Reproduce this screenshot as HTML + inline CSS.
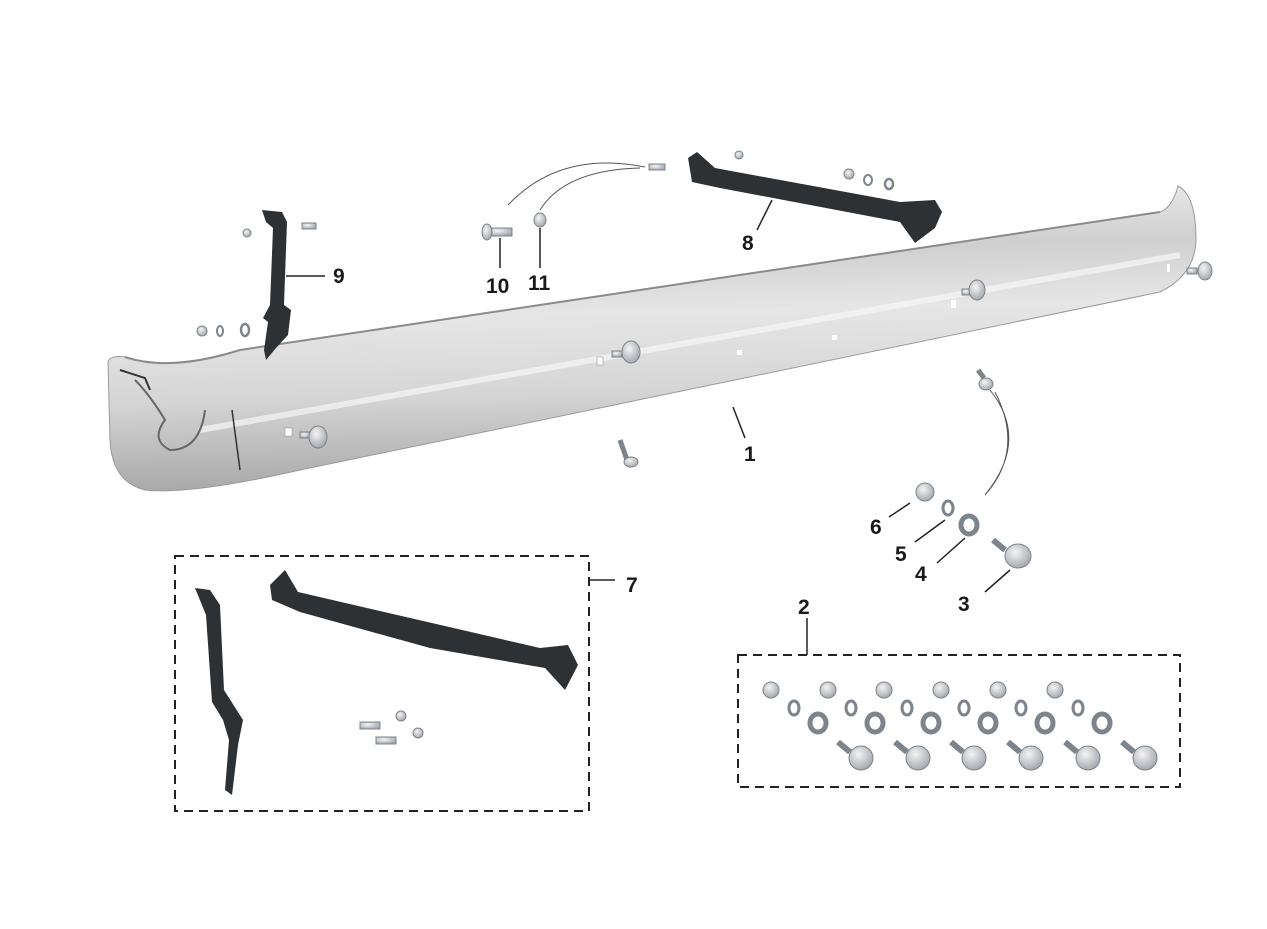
<!DOCTYPE html>
<html><head><meta charset="utf-8"><style>
html,body{margin:0;padding:0;background:#fff;}
svg{display:block;}
text{font-family:"Liberation Sans",sans-serif;font-weight:bold;font-size:21px;fill:#1a1a1a;}
</style></head><body>
<svg width="1267" height="929" viewBox="0 0 1267 929" xmlns="http://www.w3.org/2000/svg">
<defs>
<linearGradient id="chrome" x1="0" y1="0" x2="0.08" y2="1">
<stop offset="0" stop-color="#f2f2f2"/>
<stop offset="0.25" stop-color="#cfcfcf"/>
<stop offset="0.45" stop-color="#e6e6e6"/>
<stop offset="0.7" stop-color="#d6d6d6"/>
<stop offset="1" stop-color="#a9a9a9"/>
</linearGradient>
<radialGradient id="bolt" cx="0.4" cy="0.35" r="0.7"><stop offset="0" stop-color="#f4f4f4"/><stop offset="1" stop-color="#9fa4aa"/></radialGradient>
</defs>

<!-- bumper -->
<path d="M108,362 Q110,355 125,357 Q170,372 240,350 L1160,212 Q1172,208 1178,186 Q1196,195 1196,240 Q1195,275 1160,292 L300,470 Q190,495 145,490 Q112,482 110,440 Z" fill="url(#chrome)" stroke="#9a9a9a" stroke-width="1"/>
<path d="M125,357 Q170,372 240,350 L1160,212" fill="none" stroke="#8a8a8a" stroke-width="2"/>
<path d="M200,430 L1180,255" stroke="#f7f7f7" stroke-width="6" opacity="0.7"/>
<path d="M135,380 Q150,395 165,420 Q150,440 170,450 Q200,450 205,410" fill="none" stroke="#666" stroke-width="2"/>
<path d="M120,370 L145,378 L150,390" fill="none" stroke="#333" stroke-width="2"/>
<path d="M232,410 L240,470" stroke="#333" stroke-width="1.5"/>
<rect x="285" y="428" width="7" height="8" fill="#fff" stroke="#888" stroke-width=".5"/>
<rect x="597" y="357" width="6" height="8" fill="#fff" stroke="#888" stroke-width=".5"/>
<rect x="737" y="350" width="5" height="5" fill="#fff"/>
<rect x="832" y="335" width="5" height="5" fill="#fff"/>
<rect x="951" y="300" width="5" height="8" fill="#fff"/>
<rect x="603" y="412" width="6" height="7" fill="#fff"/>
<rect x="955" y="343" width="5" height="6" fill="#fff"/>
<rect x="1167" y="264" width="3" height="8" fill="#fff"/>
<g fill="url(#bolt)" stroke="#7d848b" stroke-width="1">
<rect x="300" y="432" width="10" height="6"/><ellipse cx="318" cy="437" rx="9" ry="11"/>
<rect x="612" y="351" width="10" height="6"/><ellipse cx="631" cy="352" rx="9" ry="11"/>
<rect x="962" y="289" width="10" height="6"/><ellipse cx="977" cy="290" rx="8" ry="10"/>
<rect x="1187" y="268" width="10" height="6"/><ellipse cx="1205" cy="271" rx="7" ry="9"/>
<path d="M620,440 L627,460" stroke-width="5"/><ellipse cx="631" cy="462" rx="7" ry="5"/>
<path d="M978,370 L984,378" stroke-width="5"/><ellipse cx="986" cy="384" rx="7" ry="6"/>
</g>

<!-- bracket 9 -->
<path d="M262,210 L282,212 L287,222 L284,305 L291,310 L288,335 L276,348 L266,360 L264,350 L268,322 L263,318 L270,305 L273,228 L266,222 Z" fill="#2e3134"/>
<g fill="url(#bolt)" stroke="#7d848b"><circle cx="247" cy="233" r="4"/><rect x="302" y="223" width="14" height="6"/><circle cx="202" cy="331" r="5"/><ellipse cx="220" cy="331" rx="3" ry="5" fill="none" stroke-width="2"/><ellipse cx="245" cy="330" rx="4" ry="6" fill="none" stroke-width="2.5"/></g>
<path d="M286,276 L325,276" stroke="#222" stroke-width="1.5"/>
<text x="333" y="283">9</text>

<!-- bracket 8 -->
<path d="M688,158 L697,152 L715,168 L900,202 L935,200 L942,212 L935,228 L915,243 L900,222 L720,188 L692,182 Z" fill="#2e3134"/>
<g fill="url(#bolt)" stroke="#7d848b"><circle cx="739" cy="155" r="4"/><circle cx="849" cy="174" r="5"/><ellipse cx="868" cy="180" rx="4" ry="5" fill="none" stroke-width="2"/><ellipse cx="889" cy="184" rx="4" ry="5" fill="none" stroke-width="2.5"/><rect x="649" y="164" width="16" height="6"/></g>
<path d="M772,200 L757,230" stroke="#222" stroke-width="1.5"/>
<text x="742" y="250">8</text>

<path d="M508,205 Q560,150 645,167 M540,210 Q565,170 640,168" fill="none" stroke="#555" stroke-width="1"/>
<g fill="url(#bolt)" stroke="#7d848b"><rect x="488" y="228" width="24" height="8"/><ellipse cx="487" cy="232" rx="5" ry="8"/><ellipse cx="540" cy="220" rx="6" ry="7"/></g>
<path d="M500,238 L500,268 M540,228 L540,268" stroke="#222" stroke-width="1.5"/>
<text x="486" y="293">10</text><text x="528" y="290">11</text>

<text x="744" y="461">1</text>
<path d="M733,407 L745,438" stroke="#222" stroke-width="1.5"/>

<path d="M990,390 Q1030,440 985,495 M995,392 Q1025,450 985,495" fill="none" stroke="#555" stroke-width="1"/>
<g fill="url(#bolt)" stroke="#7d848b">
<circle cx="925" cy="492" r="9"/>
<ellipse cx="948" cy="508" rx="5" ry="7" fill="none" stroke-width="3"/>
<ellipse cx="969" cy="525" rx="8" ry="9" fill="none" stroke-width="5"/>
<path d="M993,540 L1005,550" stroke-width="6"/><ellipse cx="1018" cy="556" rx="13" ry="12"/>
</g>
<path d="M910,503 L889,517 M945,520 L915,542 M965,538 L937,563 M1010,570 L985,592" stroke="#222" stroke-width="1.5"/>
<text x="870" y="534">6</text><text x="895" y="561">5</text><text x="915" y="581">4</text><text x="958" y="611">3</text>

<!-- box 7 -->
<rect x="175" y="556" width="414" height="255" fill="none" stroke="#222" stroke-width="2" stroke-dasharray="9,6"/>
<path d="M589,580 L615,580" stroke="#222" stroke-width="1.5"/>
<text x="626" y="592">7</text>
<path d="M195,588 L210,590 L220,605 L224,690 L243,720 L238,745 L232,795 L225,790 L229,740 L223,720 L212,702 L206,615 Z" fill="#2e3134"/>
<path d="M270,585 L285,570 L298,592 L540,648 L568,645 L578,665 L565,690 L545,668 L430,648 L300,612 L272,600 Z" fill="#2e3134"/>
<g fill="url(#bolt)" stroke="#7d848b"><rect x="360" y="722" width="20" height="7"/><circle cx="401" cy="716" r="5"/><rect x="376" y="737" width="20" height="7"/><circle cx="418" cy="733" r="5"/></g>

<!-- box 2 -->
<rect x="738" y="655" width="442" height="132" fill="none" stroke="#222" stroke-width="2" stroke-dasharray="9,6"/>
<path d="M807,618 L807,655" stroke="#222" stroke-width="1.5"/>
<text x="798" y="614">2</text>
<g fill="url(#bolt)" stroke="#7d848b">
<g id="s"><circle cx="771" cy="690" r="8"/><ellipse cx="794" cy="708" rx="5" ry="7" fill="none" stroke-width="3"/><ellipse cx="818" cy="723" rx="8" ry="9" fill="none" stroke-width="5"/><path d="M838,742 L850,752" stroke-width="6"/><ellipse cx="861" cy="758" rx="12" ry="12"/></g>
<use href="#s" x="57"/><use href="#s" x="113"/><use href="#s" x="170"/><use href="#s" x="227"/><use href="#s" x="284"/>
</g>
</svg>
</body></html>
